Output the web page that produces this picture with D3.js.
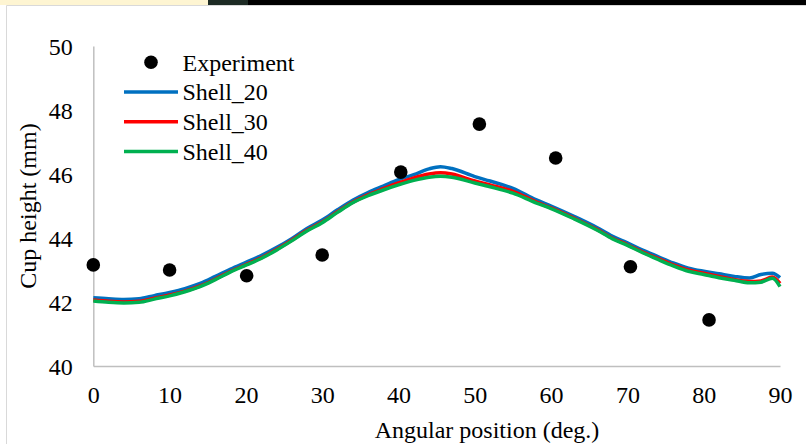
<!DOCTYPE html>
<html>
<style>
    body {
      margin: 0;
      overflow: hidden;
      background: white;
    }
    svg text {
      fill: black;
    }
</style>
<script src="https://cdn.jsdelivr.net/npm/d3@7"></script>
<svg></svg>
<script>
// values
var expAngle = [0, 10, 20.1, 30, 40.3, 50.6, 60.6, 70.4, 80.7],
    expHeight = [43.16, 43.0, 42.82, 43.47, 46.06, 47.56, 46.5, 43.1, 41.44];

var simAngle = [0, 2, 4, 6, 8, 10, 12, 14, 16, 18, 20, 22, 24, 26, 28, 30, 32, 34, 36, 38,
                40, 42, 44, 45.5, 47, 50, 52, 55, 58, 60, 63, 66, 68, 70, 72, 74, 76, 78,
                80, 82, 84, 86, 87.5, 89, 90];

var shell20 = [42.13, 42.1, 42.08, 42.1, 42.2, 42.3, 42.42, 42.58, 42.8, 43.03, 43.24, 43.45, 43.7, 43.98, 44.3, 44.56, 44.88, 45.18, 45.42, 45.62,
               45.82, 45.98, 46.16, 46.23, 46.17, 45.92, 45.78, 45.55, 45.2, 45.0, 44.68, 44.33, 44.06, 43.85, 43.62, 43.42, 43.22, 43.06,
               42.96, 42.88, 42.8, 42.75, 42.86, 42.9, 42.76];

var shell30 = [42.06, 42.02, 42.0, 42.02, 42.12, 42.22, 42.34, 42.5, 42.72, 42.96, 43.17, 43.38, 43.64, 43.93, 44.24, 44.5, 44.82, 45.12, 45.35, 45.54,
               45.72, 45.88, 46.0, 46.04, 46.0, 45.78, 45.66, 45.46, 45.13, 44.94, 44.62, 44.27, 44.0, 43.79, 43.56, 43.36, 43.16, 43.0,
               42.9, 42.8, 42.7, 42.64, 42.66, 42.78, 42.58];

var shell40 = [42.03, 41.99, 41.97, 41.99, 42.09, 42.19, 42.32, 42.48, 42.7, 42.94, 43.15, 43.36, 43.62, 43.91, 44.22, 44.48, 44.8, 45.1, 45.32, 45.5,
               45.66, 45.8, 45.9, 45.93, 45.9, 45.72, 45.6, 45.4, 45.1, 44.92, 44.6, 44.25, 43.98, 43.77, 43.54, 43.33, 43.13, 42.96,
               42.86, 42.76, 42.68, 42.6, 42.62, 42.74, 42.48];

var xTicks = [0, 10, 20, 30, 40, 50, 60, 70, 80, 90],
    yTicks = [40, 42, 44, 46, 48, 50];

var series = [
  {name: "Shell_20", values: shell20, color: "#0070C0"},
  {name: "Shell_30", values: shell30, color: "#FF0000"},
  {name: "Shell_40", values: shell40, color: "#00B050"}
];

var width = 806,
    height = 444,
    serif = "Liberation Serif",
    fontSize = 24;

var svg = d3.select("svg")
    .attr("width", width)
    .attr("height", height)
    .attr("font-family", serif);

// strip of the window above the chart
svg.append("rect").attr("x", 0).attr("y", 0).attr("width", 208).attr("height", 5).style("fill", "#FEF5D2");
svg.append("rect").attr("x", 208).attr("y", 0).attr("width", 40).attr("height", 5).style("fill", "#1d2b24");
svg.append("rect").attr("x", 248).attr("y", 0).attr("width", width - 248).attr("height", 5).style("fill", "#000");

// chart frame
svg.append("path")
    .attr("d", "M6.5," + height + "V5.5H" + width)
    .style("fill", "none")
    .style("stroke", "#D9D9D9")
    .style("stroke-width", 1);

var x = d3.scaleLinear().domain([0, 90]).range([93.3, 780]),
    y = d3.scaleLinear().domain([40, 50]).range([366, 46]);

var xAxis = svg.append("g")
    .attr("transform", "translate(0," + y(40) + ")")
    .call(d3.axisBottom(x).tickValues(xTicks).tickSize(0).tickSizeOuter(0))
    .attr("font-family", serif)
    .attr("font-size", fontSize);

xAxis.select(".domain").style("stroke", "#BFBFBF").style("stroke-width", 1.5);
xAxis.selectAll("text")
    .attr("y", 29)
    .attr("dy", "0.35em");

var yAxis = svg.append("g")
    .attr("transform", "translate(" + x(0) + ",0)")
    .call(d3.axisLeft(y).tickValues(yTicks).tickSize(0).tickSizeOuter(0))
    .attr("font-family", serif)
    .attr("font-size", fontSize);

yAxis.select(".domain").style("stroke", "#BFBFBF").style("stroke-width", 1.5);
yAxis.selectAll("text")
    .attr("x", -20.5)
    .attr("dy", "0.35em");

svg.append("text")
    .attr("x", 487)
    .attr("y", 430)
    .attr("text-anchor", "middle")
    .attr("dy", "0.35em")
    .attr("font-size", fontSize)
    .text("Angular position (deg.)");

svg.append("text")
    .attr("transform", "translate(28,206) rotate(-90)")
    .attr("text-anchor", "middle")
    .attr("dy", "0.35em")
    .attr("font-size", fontSize)
    .text("Cup height (mm)");

var line = d3.line()
    .curve(d3.curveMonotoneX)
    .x(function(d) {return x(d[0])})
    .y(function(d) {return y(d[1])});

svg.selectAll(".sim")
    .data(series)
  .enter().append("path")
    .attr("class", "sim")
    .attr("d", function(s) {return line(simAngle.map(function(a, i) {return [a, s.values[i]]}))})
    .style("fill", "none")
    .style("stroke", function(s) {return s.color})
    .style("stroke-width", 3.5)
    .style("stroke-linejoin", "round");

svg.selectAll(".exp")
    .data(expAngle)
  .enter().append("circle")
    .attr("class", "exp")
    .attr("cx", function(d) {return x(d)})
    .attr("cy", function(d, i) {return y(expHeight[i])})
    .attr("r", 6.8)
    .style("fill", "black");

// legend
var legend = svg.append("g");

legend.append("circle")
    .attr("cx", 151)
    .attr("cy", 62.3)
    .attr("r", 6.8)
    .style("fill", "black");

legend.append("text")
    .attr("x", 182.5)
    .attr("y", 62.3)
    .attr("dy", "0.35em")
    .attr("font-size", fontSize)
    .text("Experiment");

series.forEach(function(s, i) {
  var ly = 92 + i * 29.8;
  legend.append("line")
      .attr("x1", 124).attr("x2", 178)
      .attr("y1", ly).attr("y2", ly)
      .style("stroke", s.color)
      .style("stroke-width", 3.5);
  legend.append("text")
      .attr("x", 182.5)
      .attr("y", ly)
      .attr("dy", "0.35em")
      .attr("font-size", fontSize)
      .text(s.name);
});
</script>
</html>
